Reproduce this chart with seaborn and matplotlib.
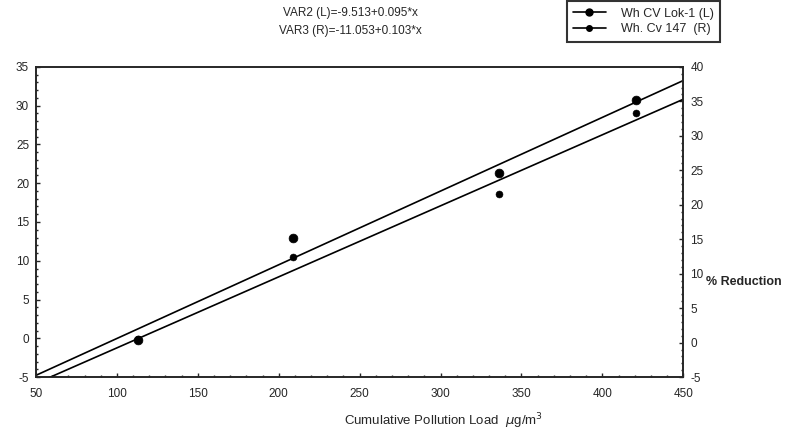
import numpy as np
import pandas as pd
import matplotlib
matplotlib.use("Agg")
import matplotlib.pyplot as plt
import seaborn as sns
from matplotlib.lines import Line2D
from matplotlib.ticker import MultipleLocator

# data
load = [113, 209, 336, 421]
var2_left = [-0.2, 12.9, 21.3, 30.7]    # Wh CV Lok-1 (L)
var3_right = [0.5, 12.4, 21.6, 33.3]    # Wh. Cv 147 (R)

# fitted lines shown on the chart
fit2 = (-9.513, 0.095)
fit3 = (-11.053, 0.103)
line_x = [50, 450]

sns.set_style("ticks")
plt.rcParams["font.family"] = ["Liberation Sans", "DejaVu Sans"]
plt.rcParams["font.size"] = 8.5
plt.rcParams["axes.unicode_minus"] = False

fig = plt.figure(figsize=(8.01, 4.37), dpi=100)
ax = fig.add_axes([0.045, 0.137, 0.808, 0.71])
ax2 = ax.twinx()

pts2 = pd.DataFrame({"x": load, "y": var2_left})
pts3 = pd.DataFrame({"x": load, "y": var3_right})
ln2 = pd.DataFrame({"x": line_x, "y": [fit2[0] + fit2[1] * v for v in line_x]})
ln3 = pd.DataFrame({"x": line_x, "y": [fit3[0] + fit3[1] * v for v in line_x]})

sns.lineplot(data=ln2, x="x", y="y", ax=ax, color="black", lw=1.2)
sns.scatterplot(data=pts2, x="x", y="y", ax=ax, color="black", s=40, edgecolor="black")
sns.lineplot(data=ln3, x="x", y="y", ax=ax2, color="black", lw=1.2)
sns.scatterplot(data=pts3, x="x", y="y", ax=ax2, color="black", s=25, edgecolor="black")

ax.set_xlim(50, 450)
ax.set_ylim(-5, 35)
ax2.set_ylim(-5, 40)
ax.xaxis.set_major_locator(MultipleLocator(50))
ax.yaxis.set_major_locator(MultipleLocator(5))
ax2.yaxis.set_major_locator(MultipleLocator(5))
ax.xaxis.set_minor_locator(MultipleLocator(10))
ax.yaxis.set_minor_locator(MultipleLocator(1))
ax2.yaxis.set_minor_locator(MultipleLocator(1))

for a in (ax, ax2):
    a.tick_params(which="major", direction="in", length=3, width=1, labelsize=8.5, pad=5)
    a.tick_params(which="minor", direction="in", length=1.5, width=1)
    for s in a.spines.values():
        s.set_visible(True)
        s.set_linewidth(1.2)
ax.tick_params(axis="x", pad=8)
ax.tick_params(top=False, which="both")
ax.set_ylabel("")
ax2.set_ylabel("")
ax.set_xlabel(r"Cumulative Pollution Load  $\mu$g/m$^3$", fontsize=9.5)
ax.xaxis.set_label_coords(0.629, -0.142)
ax.xaxis.label.set_va("center")

fig.text(0.882, 1 - 282 / 437, "% Reduction", fontsize=9, fontweight="bold",
         va="center", ha="left")

fig.text(0.438, 1 - 13 / 437, "VAR2 (L)=-9.513+0.095*x", ha="center", va="center", fontsize=8.5)
fig.text(0.438, 1 - 31 / 437, "VAR3 (R)=-11.053+0.103*x", ha="center", va="center", fontsize=8.5)

handles = [
    Line2D([], [], color="black", marker="o", markersize=5, lw=1.2),
    Line2D([], [], color="black", marker="o", markersize=4, lw=1.2),
]
leg = fig.legend(handles, ["Wh CV Lok-1 (L)", "Wh. Cv 147  (R)"],
                 loc="upper left", bbox_to_anchor=(0.706, 1.0),
                 frameon=True, fancybox=False, fontsize=9,
                 handlelength=2.6, borderpad=0.5, labelspacing=0.3,
                 handletextpad=1.2, borderaxespad=0.1)
leg.get_frame().set_edgecolor("black")
leg.get_frame().set_linewidth(1.5)

fig.savefig("out.png", dpi=100, facecolor="white")
